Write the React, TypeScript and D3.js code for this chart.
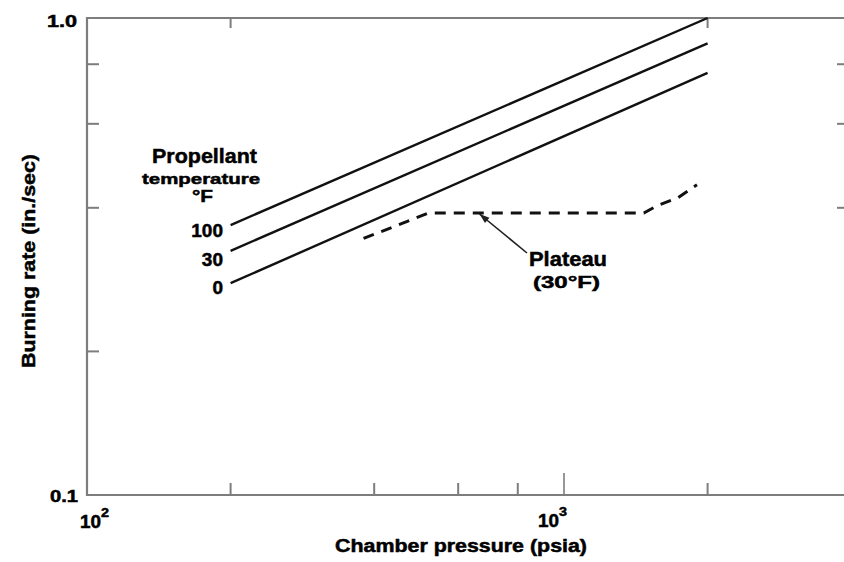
import React from "react";
import * as d3 from "d3";

// ---- data ----
const pressures = [200, 2000];
const tempLabels = ["100", "30", "0"];
const rate100 = [0.368, 1.0];
const rate30 = [0.325, 0.885];
const rate0 = [0.278, 0.767];
const plateauP = [380, 520, 1470, 1575, 1735, 1900];
const plateauR = [0.345, 0.39, 0.39, 0.405, 0.42, 0.447];
const xMinorTicks = [200, 400, 600, 800, 2000];
const xMajorTicks = [1000];
const xTopTicks = [200, 2000];
const yTicks = [0.2, 0.4, 0.6, 0.8];
const yRightTicks = [0.4, 0.6, 0.8];

const W = 844;
const H = 562;
const FONT = "'Liberation Sans', Arial, Helvetica, sans-serif";

function T(props: any) {
  const { children, ...rest } = props;
  return (
    <text fill="#000" stroke="#000" strokeWidth={0.5} lengthAdjust="spacingAndGlyphs" {...rest}>
      {children}
    </text>
  );
}

export default function App() {
  const x = d3.scaleLog().domain([100, 1000]).range([87, 564]);
  const y = d3.scaleLog().domain([0.1, 1.0]).range([495, 18]);
  const line = d3
    .line<[number, number]>()
    .x((d) => x(d[0]))
    .y((d) => y(d[1]));

  const series = [rate100, rate30, rate0];
  const xRight = W + 5;
  const frame = "#7d7d7d";

  const plateau = plateauP.map((p, i) => [p, plateauR[i]] as [number, number]);

  // annotation arrow
  const tip: [number, number] = [x(665), y(0.392) + 2];
  const tail: [number, number] = [527, 253];
  const ang = Math.atan2(tail[1] - tip[1], tail[0] - tip[0]);
  const ah = 10;
  const aw = 3.5;
  const p1 = [tip[0] + ah * Math.cos(ang) - aw * Math.sin(ang), tip[1] + ah * Math.sin(ang) + aw * Math.cos(ang)];
  const p2 = [tip[0] + ah * Math.cos(ang) + aw * Math.sin(ang), tip[1] + ah * Math.sin(ang) - aw * Math.cos(ang)];

  const tempBaselines = [237, 266, 294];

  return (
    <svg
      width={W}
      height={H}
      style={{ position: "absolute", left: 0, top: 0, background: "#fff" }}
      fontFamily={FONT}
      fontWeight="bold"
    >
      {/* frame */}
      <line x1={x(100) - 1} y1={y(1)} x2={xRight} y2={y(1)} stroke={frame} strokeWidth={2.2} />
      <line x1={x(100) - 1} y1={y(0.1)} x2={xRight} y2={y(0.1)} stroke={frame} strokeWidth={2.2} />
      <line x1={x(100)} y1={y(1) - 1} x2={x(100)} y2={y(0.1) + 1} stroke={frame} strokeWidth={2.2} />

      {/* x ticks bottom */}
      {xMinorTicks.map((t) => (
        <line key={"xb" + t} x1={x(t)} x2={x(t)} y1={y(0.1)} y2={y(0.1) - 12} stroke={frame} strokeWidth={2} />
      ))}
      {xMajorTicks.map((t) => (
        <line key={"xM" + t} x1={x(t)} x2={x(t)} y1={y(0.1)} y2={y(0.1) - 22} stroke={frame} strokeWidth={1.6} />
      ))}
      {xTopTicks.map((t) => (
        <line key={"xt" + t} x1={x(t)} x2={x(t)} y1={y(1)} y2={y(1) + 10} stroke={frame} strokeWidth={2} />
      ))}
      {/* y ticks */}
      {yTicks.map((t) => (
        <line key={"yl" + t} x1={x(100)} x2={x(100) + 12} y1={y(t)} y2={y(t)} stroke={frame} strokeWidth={2} />
      ))}
      {yRightTicks.map((t) => (
        <line key={"yr" + t} x1={xRight} x2={xRight - 12} y1={y(t)} y2={y(t)} stroke={frame} strokeWidth={2} />
      ))}

      {/* tick labels */}
      <T x={47} y={27} fontSize={16} textLength={30}>1.0</T>
      <T x={50} y={502} fontSize={16} textLength={28}>0.1</T>
      <T x={80} y={528} fontSize={18} textLength={21}>10</T>
      <T x={101} y={517} fontSize={12} textLength={8}>2</T>
      <T x={538} y={527} fontSize={18} textLength={21}>10</T>
      <T x={559} y={516} fontSize={12} textLength={8}>3</T>

      {/* axis titles */}
      <T x={335} y={552} fontSize={18} textLength={252}>
        Chamber pressure (psia)
      </T>
      <T transform={`translate(35,368) rotate(-90)`} x={0} y={0} fontSize={19} textLength={214}>
        Burning rate (in./sec)
      </T>

      {/* temperature lines */}
      {series.map((s, i) => (
        <path
          key={"s" + i}
          d={line(pressures.map((p, j) => [p, s[j]] as [number, number])) || ""}
          fill="none"
          stroke="#111"
          strokeWidth={2.4}
        />
      ))}

      {/* plateau dashed */}
      <path d={line(plateau) || ""} fill="none" stroke="#111" strokeWidth={3} strokeDasharray="11,8" />

      {/* legend-like labels */}
      <T x={152} y={163} fontSize={21} textLength={105}>Propellant</T>
      <T x={142} y={184} fontSize={15} textLength={118}>temperature</T>
      <T x={192} y={202} fontSize={17} textLength={21}>°F</T>
      {tempLabels.map((t, i) => (
        <T key={"tl" + t} x={223} y={tempBaselines[i]} textAnchor="end" fontSize={19}>
          {t}
        </T>
      ))}

      {/* annotation */}
      <line x1={tail[0]} y1={tail[1]} x2={tip[0]} y2={tip[1]} stroke="#222" strokeWidth={1.6} />
      <polygon points={`${tip[0]},${tip[1]} ${p1[0]},${p1[1]} ${p2[0]},${p2[1]}`} fill="#222" />
      <T x={529} y={266} fontSize={20} textLength={78}>Plateau</T>
      <T x={533} y={288} fontSize={17} textLength={67}>(30°F)</T>
    </svg>
  );
}
